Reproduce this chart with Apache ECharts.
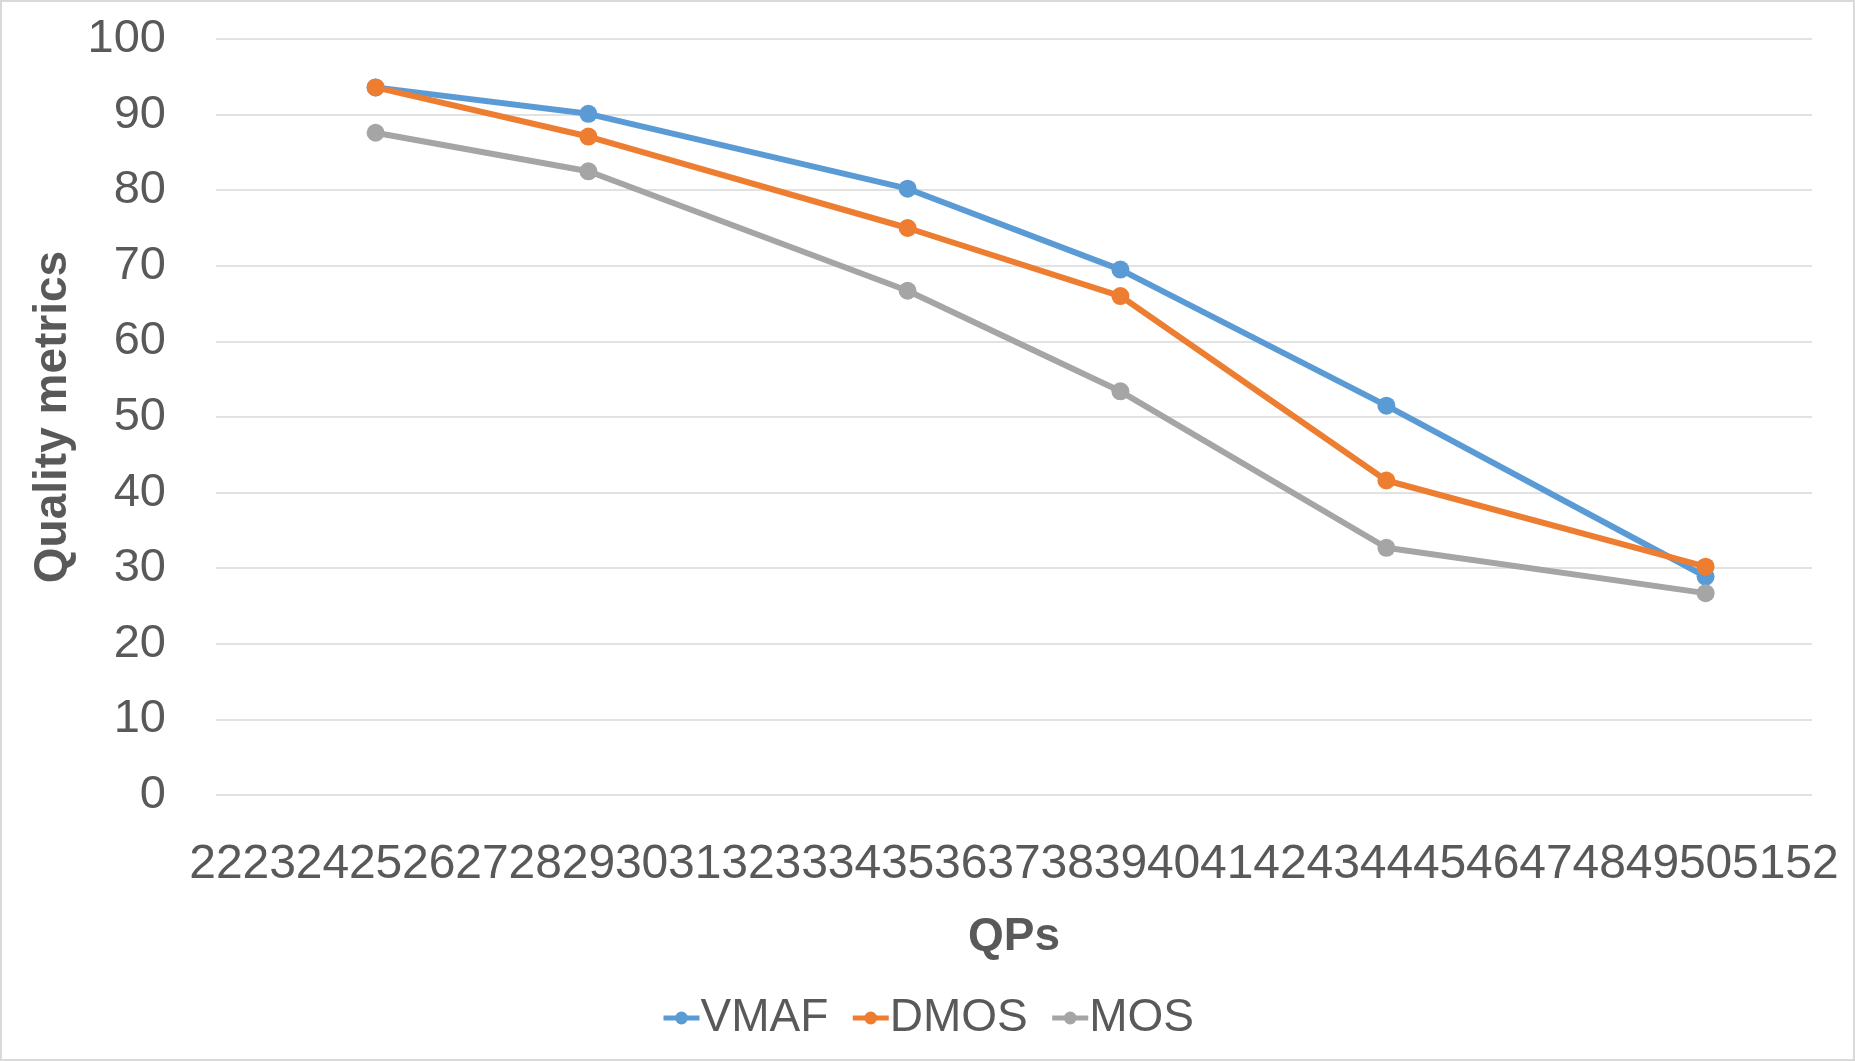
<!DOCTYPE html>
<html>
<head>
<meta charset="utf-8">
<script src="https://cdn.jsdelivr.net/npm/echarts@6/dist/echarts.min.js"></script>
<style>
html,body{margin:0;padding:0;background:#fff;}
#chart{width:1855px;height:1061px;}
</style>
</head>
<body>
<div id="chart"></div>
<script>
const qps = [25, 29, 35, 39, 44, 50];
const vmaf = [93.6, 90.1, 80.2, 69.5, 51.5, 28.9];
const dmos = [93.6, 87.1, 75.0, 66.0, 41.6, 30.2];
const mos = [87.6, 82.5, 66.7, 53.4, 32.7, 26.7];
const seriesNames = ['VMAF', 'DMOS', 'MOS'];
const colors = ['#5B9BD5', '#ED7D31', '#A5A5A5'];
const xTitle = 'QPs';
const yTitle = 'Quality metrics';

const font = '"Liberation Sans", Arial, sans-serif';
const txt = '#595959';
const pairs = v => qps.map((q, i) => [q, v[i]]);
const chart = echarts.init(document.getElementById('chart'), null, {renderer: 'canvas'});
const mk = (name, data, color) => ({
  name, type: 'line', data: pairs(data), color,
  symbol: 'circle', symbolSize: 18, showSymbol: true,
  lineStyle: {width: 6, color}, itemStyle: {color},
  z: 3
});
chart.setOption({
  animation: false,
  backgroundColor: '#fff',
  textStyle: {fontFamily: font},
  graphic: [{type: 'rect', shape: {x: 1, y: 1, width: 1853, height: 1059},
    style: {fill: 'none', stroke: '#d9d9d9', lineWidth: 2}, silent: true}],
  grid: {left: 216, right: 43, top: 39, bottom: 266},
  legend: {
    data: seriesNames, top: 990, left: 'center',
    itemWidth: 36, itemHeight: 16, itemGap: 22,
    lineStyle: {width: 5},
    textStyle: {fontSize: 46, color: txt, fontFamily: font, padding: [0, 0, 0, -4]}
  },
  xAxis: {
    type: 'value', min: 22, max: 52, interval: 1,
    name: xTitle, nameLocation: 'middle', nameGap: 119,
    nameTextStyle: {fontSize: 46, fontWeight: 'bold', color: txt, fontFamily: font},
    axisLine: {show: false}, axisTick: {show: false},
    splitLine: {show: false},
    axisLabel: {fontSize: 48, color: txt, margin: 46, fontFamily: font, hideOverlap: false}
  },
  yAxis: {
    type: 'value', min: 0, max: 100, interval: 10,
    name: yTitle, nameLocation: 'middle', nameGap: 138,
    nameTextStyle: {fontSize: 46, fontWeight: 'bold', color: txt, fontFamily: font},
    axisLine: {show: false}, axisTick: {show: false},
    splitLine: {show: true, lineStyle: {color: '#d9d9d9', width: 1.5}},
    axisLabel: {fontSize: 47, color: txt, margin: 50, fontFamily: font}
  },
  series: [mk(seriesNames[0], vmaf, colors[0]), mk(seriesNames[1], dmos, colors[1]), mk(seriesNames[2], mos, colors[2])]
});
</script>
</body>
</html>
